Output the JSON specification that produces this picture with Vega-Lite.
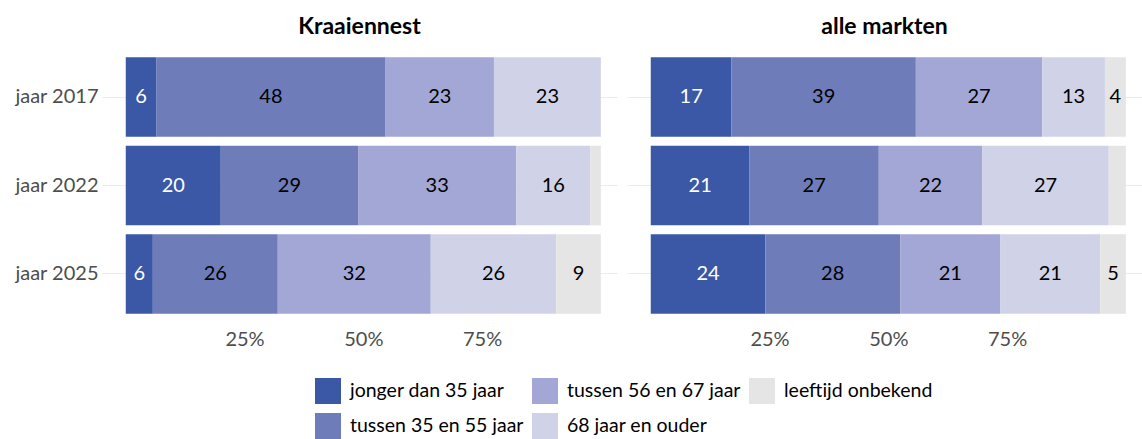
{
  "$schema": "https://vega.github.io/schema/vega-lite/v6.json",
  "padding": {"left": 14, "top": 16, "right": 0, "bottom": 0},
  "config": {
    "font": "Lato",
    "view": {"stroke": null},
    "facet": {"spacing": 10},
    "axis": {"labelFont": "Lato", "labelFontSize": 20, "labelColor": "#4d4d4d", "domain": false, "ticks": false, "title": null}
  },
  "data": {
    "values": [
      {"markt": "Kraaiennest", "jaar": "jaar 2017", "groep": "jonger dan 35 jaar", "k": 1, "pct": 6.4},
      {"markt": "Kraaiennest", "jaar": "jaar 2017", "groep": "tussen 35 en 55 jaar", "k": 2, "pct": 48.3},
      {"markt": "Kraaiennest", "jaar": "jaar 2017", "groep": "tussen 56 en 67 jaar", "k": 3, "pct": 22.8},
      {"markt": "Kraaiennest", "jaar": "jaar 2017", "groep": "68 jaar en ouder", "k": 4, "pct": 22.5},
      {"markt": "Kraaiennest", "jaar": "jaar 2022", "groep": "jonger dan 35 jaar", "k": 1, "pct": 20.0},
      {"markt": "Kraaiennest", "jaar": "jaar 2022", "groep": "tussen 35 en 55 jaar", "k": 2, "pct": 28.9},
      {"markt": "Kraaiennest", "jaar": "jaar 2022", "groep": "tussen 56 en 67 jaar", "k": 3, "pct": 33.3},
      {"markt": "Kraaiennest", "jaar": "jaar 2022", "groep": "68 jaar en ouder", "k": 4, "pct": 15.6},
      {"markt": "Kraaiennest", "jaar": "jaar 2022", "groep": "leeftijd onbekend", "k": 5, "pct": 2.2},
      {"markt": "Kraaiennest", "jaar": "jaar 2025", "groep": "jonger dan 35 jaar", "k": 1, "pct": 5.7},
      {"markt": "Kraaiennest", "jaar": "jaar 2025", "groep": "tussen 35 en 55 jaar", "k": 2, "pct": 26.3},
      {"markt": "Kraaiennest", "jaar": "jaar 2025", "groep": "tussen 56 en 67 jaar", "k": 3, "pct": 32.2},
      {"markt": "Kraaiennest", "jaar": "jaar 2025", "groep": "68 jaar en ouder", "k": 4, "pct": 26.4},
      {"markt": "Kraaiennest", "jaar": "jaar 2025", "groep": "leeftijd onbekend", "k": 5, "pct": 9.4},
      {"markt": "alle markten", "jaar": "jaar 2017", "groep": "jonger dan 35 jaar", "k": 1, "pct": 17.0},
      {"markt": "alle markten", "jaar": "jaar 2017", "groep": "tussen 35 en 55 jaar", "k": 2, "pct": 38.8},
      {"markt": "alle markten", "jaar": "jaar 2017", "groep": "tussen 56 en 67 jaar", "k": 3, "pct": 26.6},
      {"markt": "alle markten", "jaar": "jaar 2017", "groep": "68 jaar en ouder", "k": 4, "pct": 13.2},
      {"markt": "alle markten", "jaar": "jaar 2017", "groep": "leeftijd onbekend", "k": 5, "pct": 4.4},
      {"markt": "alle markten", "jaar": "jaar 2022", "groep": "jonger dan 35 jaar", "k": 1, "pct": 20.8},
      {"markt": "alle markten", "jaar": "jaar 2022", "groep": "tussen 35 en 55 jaar", "k": 2, "pct": 27.2},
      {"markt": "alle markten", "jaar": "jaar 2022", "groep": "tussen 56 en 67 jaar", "k": 3, "pct": 21.8},
      {"markt": "alle markten", "jaar": "jaar 2022", "groep": "68 jaar en ouder", "k": 4, "pct": 26.6},
      {"markt": "alle markten", "jaar": "jaar 2022", "groep": "leeftijd onbekend", "k": 5, "pct": 3.6},
      {"markt": "alle markten", "jaar": "jaar 2025", "groep": "jonger dan 35 jaar", "k": 1, "pct": 24.1},
      {"markt": "alle markten", "jaar": "jaar 2025", "groep": "tussen 35 en 55 jaar", "k": 2, "pct": 28.4},
      {"markt": "alle markten", "jaar": "jaar 2025", "groep": "tussen 56 en 67 jaar", "k": 3, "pct": 21.1},
      {"markt": "alle markten", "jaar": "jaar 2025", "groep": "68 jaar en ouder", "k": 4, "pct": 21.0},
      {"markt": "alle markten", "jaar": "jaar 2025", "groep": "leeftijd onbekend", "k": 5, "pct": 5.4}
    ]
  },
  "facet": {
    "column": {
      "field": "markt",
      "type": "nominal",
      "sort": ["Kraaiennest", "alle markten"],
      "title": null,
      "header": {"labelFont": "Lato", "labelFontSize": 23, "labelFontWeight": "bold", "labelColor": "black", "labelPadding": 5}
    }
  },
  "spec": {
    "width": 515,
    "height": 283,
    "encoding": {
      "y": {
        "field": "jaar",
        "type": "nominal",
        "sort": ["jaar 2017", "jaar 2022", "jaar 2025"],
        "scale": {"paddingInner": 0.1, "paddingOuter": 0.15},
        "axis": {"grid": true, "gridColor": "#ebebeb", "gridWidth": 1.2, "labelPadding": 4}
      },
      "x": {
        "field": "pct",
        "type": "quantitative",
        "stack": "zero",
        "scale": {"domain": [-5, 103.4], "nice": false, "zero": false},
        "axis": {"grid": false, "values": [25, 50, 75], "labelExpr": "datum.value + '%'", "labelPadding": 2}
      },
      "order": {"field": "k", "type": "quantitative", "sort": "ascending"}
    },
    "layer": [
      {
        "mark": {"type": "bar", "strokeWidth": 0},
        "encoding": {
          "color": {
            "field": "groep",
            "type": "nominal",
            "scale": {
              "domain": ["jonger dan 35 jaar", "tussen 56 en 67 jaar", "leeftijd onbekend", "tussen 35 en 55 jaar", "68 jaar en ouder"],
              "range": ["#3a58a5", "#a3a7d5", "#e5e5e5", "#6e7dba", "#d0d2e7"]
            },
            "legend": {
              "title": null,
              "orient": "none",
              "legendX": 213,
              "legendY": 334,
              "direction": "horizontal",
              "columns": 3,
              "symbolType": "square",
              "symbolSize": 676,
              "symbolStrokeWidth": 0,
              "symbolOpacity": 1,
              "labelFont": "Lato",
              "labelFontSize": 19.5,
              "labelColor": "black",
              "labelOffset": 9,
              "rowPadding": 9,
              "columnPadding": 8,
              "labelLimit": 300
            }
          }
        }
      },
      {
        "transform": [{"filter": "datum.pct >= 4"}],
        "mark": {"type": "text", "font": "Lato", "fontSize": 20, "baseline": "middle", "align": "center"},
        "encoding": {
          "x": {"field": "pct", "type": "quantitative", "stack": "zero", "bandPosition": 0.5},
          "text": {"field": "pct", "type": "quantitative", "format": ".0f"},
          "color": {
            "condition": {"test": "datum.groep === 'jonger dan 35 jaar'", "value": "white"},
            "value": "black"
          }
        }
      }
    ]
  }
}
